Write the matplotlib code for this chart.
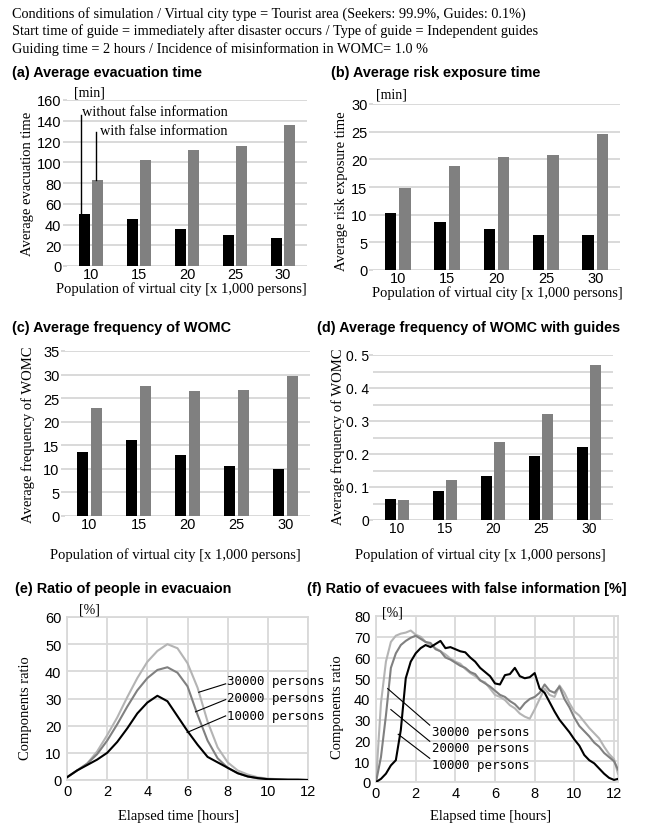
import numpy as np
import matplotlib
matplotlib.use('Agg')
import matplotlib.pyplot as plt

# ---- data ----
pop_labels = ['10', '15', '20', '25', '30']

evac_no_false = [50.5, 45, 35.5, 30, 27]
evac_false = [82.5, 102.5, 112, 116, 136]

risk_no_false = [10.3, 8.7, 7.35, 6.4, 6.3]
risk_false = [14.8, 18.8, 20.4, 20.7, 24.5]

womc_no_false = [13.6, 16.2, 12.9, 10.6, 9.9]
womc_false = [22.9, 27.6, 26.5, 26.8, 29.6]

guide_no_false = [0.065, 0.089, 0.134, 0.193, 0.221]
guide_false = [0.062, 0.121, 0.237, 0.321, 0.469]

# (e) ratio of people in evacuation, every half hour 0..12
hours_e = np.arange(0, 12.01, 0.5)
evac_10k = [1, 3.5, 5.5, 7.5, 10, 14, 19, 24.5, 28.5, 31, 29, 23.5, 18, 13, 8.5,
            6.5, 4.5, 2.5, 1.3, 0.7, 0.3, 0.2, 0.1, 0.1, 0]
evac_20k = [1, 3.5, 6, 9.5, 14.5, 20.5, 27, 33, 37.5, 40.5, 41.5, 39.5, 34.5, 24, 14.5,
            8, 4.5, 2.5, 1.3, 0.6, 0.3, 0.2, 0.1, 0.1, 0]
evac_30k = [1, 3.5, 6, 10.5, 16.5, 23, 30.5, 37.5, 43.5, 47.5, 50, 48.5, 43, 34, 21.5,
            12, 6.5, 3.5, 2, 1, 0.5, 0.3, 0.2, 0.1, 0]

# (f) ratio of evacuees with false information, every quarter hour 0..12, plus 12.2
hours_f = np.append(np.arange(0, 12.01, 0.25), 12.2)
false_10k = [0, 1.5, 4, 8, 10.5, 25, 50, 58, 62, 64.5, 66, 65, 66.5, 68, 64.5, 65, 64,
             63, 62.5, 60, 58, 55, 53, 51, 47.5, 47, 51.5, 52, 55, 51, 50, 50.5, 52.5,
             45, 43, 38.5, 34, 30, 27, 24, 20.5, 17.5, 13, 10.5, 9, 6.5, 4, 2, 1, 1.5]
false_20k = [0, 12, 32, 55, 62, 66, 68, 69.5, 70.5, 69, 67.5, 67, 64, 63, 60, 59, 57.5,
             56, 55, 53, 52, 49, 47.5, 46, 44, 42, 41, 39, 37.5, 35, 38, 40, 41, 43, 47,
             44, 43, 46, 40, 36, 31, 27, 24.5, 22, 19, 17, 14, 12, 10, 6]
false_30k = [0, 38, 58, 67.5, 70.5, 71.5, 72, 73, 71, 70, 67.5, 66, 64.5, 63, 61.5, 59.5,
             58, 57, 54.5, 52.5, 51, 49, 48, 45, 42, 41, 39.5, 37, 35.5, 33, 31.5, 30.5,
             35, 40, 45, 42, 41, 46.5, 43, 38, 34, 32, 29, 26, 23.5, 21, 17, 13.5, 11, 4]

header = [
    "Conditions of simulation / Virtual city type = Tourist area (Seekers: 99.9%, Guides: 0.1%)",
    "Start time of guide = immediately after disaster occurs / Type of guide = Independent guides",
    "Guiding time = 2 hours / Incidence of misinformation in WOMC= 1.0 %",
]

W, H = 645, 828
SERIF = 'Liberation Serif'
TICKF = 'Liberation Sans'
MONO = 'DejaVu Sans Mono'
GRID = '#d9d9d9'
BLACK = '#000000'
GRAY = '#808080'
LIGHT = '#b4b4b4'


def rect(left, top, right, bottom):
    return [left / W, 1 - bottom / H, (right - left) / W, (bottom - top) / H]


def ftext(px, py, s, **kw):
    fig.text(px / W, 1 - py / H, s, **kw)


fig = plt.figure(figsize=(W / 100, H / 100), dpi=100)

for i, line in enumerate(header):
    ftext(12, 14 + 17.5 * i, line, family=SERIF, fontsize=10.3, va='center')


def style_ticks(ax, size=10.5):
    for lab in ax.get_xticklabels() + ax.get_yticklabels():
        lab.set_family(TICKF)
        lab.set_fontsize(size)


def bar_panel(r, black, gray, ymax, ystep, ylabel, title, tpos, ylpos, xlpos):
    ax = fig.add_axes(rect(*r))
    x = np.arange(len(pop_labels))
    ax.bar(x - 0.145, black, 0.23, color=BLACK, zorder=3)
    ax.bar(x + 0.145, gray, 0.23, color=GRAY, zorder=3)
    ax.set_xlim(-0.5, len(pop_labels) - 0.5)
    ax.set_ylim(0, ymax)
    ax.set_xticks(x)
    ax.set_xticklabels(pop_labels)
    ax.set_yticks(np.arange(0, ymax + ystep / 2, ystep))
    ax.yaxis.grid(True, color=GRID, lw=1.4, zorder=0)
    ax.set_axisbelow(True)
    for sp in ax.spines.values():
        sp.set_visible(False)
    ax.tick_params(axis='x', length=0, pad=1)
    ax.tick_params(axis='y', length=3, color=GRID, width=1.4, pad=1)
    style_ticks(ax)
    ftext(tpos[0], tpos[1], title, family='Liberation Sans', weight='bold',
          fontsize=10.4, va='center')
    ftext(ylpos[0], ylpos[1], ylabel, family=SERIF, fontsize=10.5, rotation=90,
          va='center', ha='center')
    ftext(xlpos[0], xlpos[1], 'Population of virtual city [x 1,000 persons]',
          family=SERIF, fontsize=10.5, va='center', ha='center')
    return ax


# (a)
ax_a = bar_panel((67, 101, 307, 267), evac_no_false, evac_false, 160, 20,
                 'Average evacuation time', '(a) Average evacuation time',
                 (12, 73), (28, 184), (181, 289))
ftext(89, 93, '[min]', family=SERIF, fontsize=10, va='center', ha='center')
ax_a.plot([-0.2, -0.2], [evac_no_false[0], 146], color=BLACK, lw=1, zorder=4)
ax_a.plot([0.1, 0.1], [evac_false[0], 129], color=BLACK, lw=1, zorder=4)
ax_a.text(-0.19, 149, 'without false information', family=SERIF, fontsize=10.4, va='center')
ax_a.text(0.18, 131, 'with false information', family=SERIF, fontsize=10.4, va='center')

# (b)
bar_panel((373, 105, 620, 271), risk_no_false, risk_false, 30, 5,
          'Average risk exposure time', '(b) Average risk exposure time',
          (331, 73), (342, 191), (497, 293))
ftext(391, 95, '[min]', family=SERIF, fontsize=10, va='center', ha='center')

# (c)
bar_panel((65, 352, 310, 517), womc_no_false, womc_false, 35, 5,
          'Average frequency of WOMC', '(c) Average frequency of WOMC',
          (12, 328), (28, 435), (175, 555))

# (d)
ax_d = bar_panel((373, 356, 613, 521), guide_no_false, guide_false, 0.5, 0.1,
                 'Average frequency of WOMC', '(d) Average frequency of WOMC with guides',
                 (317, 328), (338, 437), (480, 555))
ax_d.set_yticks(np.arange(0.05, 0.5, 0.1), minor=True)
ax_d.yaxis.grid(True, which='minor', color=GRID, lw=1.4, zorder=0)
ax_d.tick_params(axis='y', which='minor', length=0)
ax_d.tick_params(axis='y', which='major', pad=0)
ax_d.set_yticklabels(['0', '0. 1', '0. 2', '0. 3', '0. 4', '0. 5'])
style_ticks(ax_d, 10)


def line_panel(r, xmax, ymax, ystep, curves, title, tpos, ylpos, xlpos, unitpos):
    ax = fig.add_axes(rect(*r))
    for xs, ys, col in curves:
        ax.plot(xs, ys, color=col, lw=1.5, zorder=3)
    ax.set_xlim(0, xmax)
    ax.set_ylim(0, ymax)
    ax.set_xticks(np.arange(0, 12.1, 2))
    ax.set_yticks(np.arange(0, ymax + 1, ystep))
    ax.grid(True, color=GRID, lw=1.3, zorder=0)
    for sp in ax.spines.values():
        sp.set_color(GRID)
        sp.set_linewidth(1.3)
    ax.tick_params(axis='x', length=0, pad=3)
    ax.tick_params(axis='y', length=0, pad=4)
    style_ticks(ax)
    ftext(tpos[0], tpos[1], title, family='Liberation Sans', weight='bold',
          fontsize=10.4, va='center')
    ftext(ylpos[0], ylpos[1], 'Components ratio', family=SERIF, fontsize=10.5,
          rotation=90, va='center', ha='center')
    ftext(xlpos[0], xlpos[1], 'Elapsed time [hours]', family=SERIF, fontsize=10.5,
          va='center', ha='center')
    ftext(unitpos[0], unitpos[1], '[%]', family=SERIF, fontsize=10,
          va='center', ha='center')
    return ax


# (e)
ax_e = line_panel((67, 618, 308, 781), 12, 60, 10,
                  [(hours_e, evac_30k, LIGHT), (hours_e, evac_20k, GRAY),
                   (hours_e, evac_10k, BLACK)],
                  '(e) Ratio of people in evacuaion', (15, 589), (26, 708),
                  (179, 817), (89, 610))
for (x0, y0, x1, y1, ty, lab) in [(7.9, 35.4, 6.56, 32.3, 36.5, '30000 persons'),
                                  (7.9, 29.6, 6.4, 25.1, 30.4, '20000 persons'),
                                  (7.9, 23.6, 5.98, 17.5, 23.9, '10000 persons')]:
    ax_e.plot([x0, x1], [y0, y1], color=BLACK, lw=0.8, zorder=4)
    ax_e.text(7.95, ty, lab, family=MONO, fontsize=9, va='center', zorder=5,
              clip_on=False)

# (f)
ax_f = line_panel((376, 617, 618, 783), 12.2, 80, 10,
                  [(hours_f, false_30k, LIGHT), (hours_f, false_20k, GRAY),
                   (hours_f, false_10k, BLACK)],
                  '(f) Ratio of evacuees with false information [%]', (307, 589),
                  (338, 707), (491, 817), (392, 613))
for (x0, y0, ty, lab) in [(0.59, 45, 24.4, '30000 persons'),
                          (0.75, 34.9, 16.6, '20000 persons'),
                          (1.12, 23, 8.4, '10000 persons')]:
    ax_f.plot([x0, 2.71], [y0, ty + 3], color=BLACK, lw=0.8, zorder=4)
    ax_f.text(2.8, ty, lab, family=MONO, fontsize=9, va='center', zorder=5)

fig.savefig('out.png', dpi=100)
